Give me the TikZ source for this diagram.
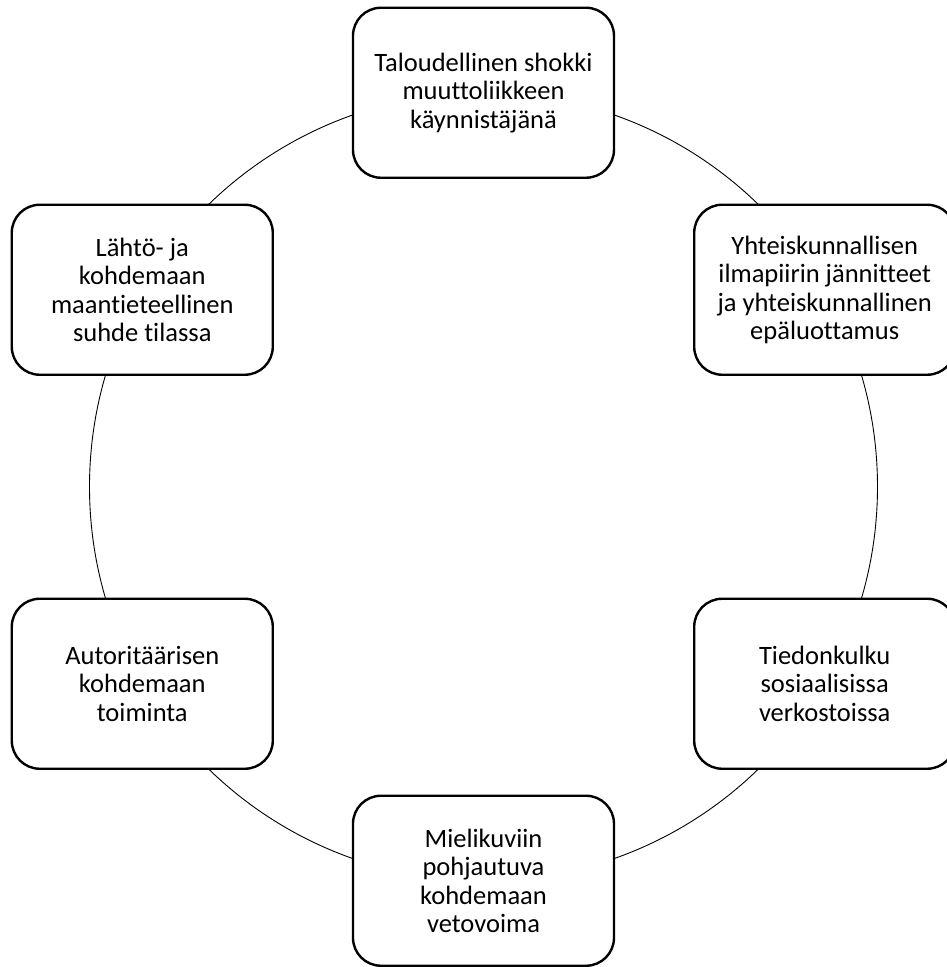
\documentclass[tikz,border=0pt]{standalone}
\usepackage{fontspec}
\setmainfont{Carlito}[Ligatures={NoCommon}]

\begin{document}
\begin{tikzpicture}[x=1pt, y=1pt,
  tekijä/.style={draw, line width=2.4pt, rounded corners=28pt, fill=white,
    minimum width=261pt, minimum height=170pt, inner sep=0pt,
    align=center, font=\fontsize{26.5}{28.5}\selectfont}]

\useasboundingbox (-483.5,-480.25) rectangle (462.5,486.75);

\draw [line width=0.9pt] (0,0) circle (394);

\node[tekijä] (shokki) at (90:394) {Taloudellinen shokki\\muuttoliikkeen\\käynnistäjänä};

\node[tekijä] (ilmapiiri) at (30:394) {Yhteiskunnallisen\\ilmapiirin jännitteet\\ja yhteiskunnallinen\\epäluottamus};

\node[tekijä] (tiedonkulku) at (-30:394) {Tiedonkulku\\sosiaalisissa\\verkostoissa};

\node[tekijä] (vetovoima) at (-90:394) {Mielikuviin\\pohjautuva\\kohdemaan\\vetovoima};

\node[tekijä] (autoritaarinen) at (-150:394) {Autoritäärisen\\kohdemaan\\toiminta};

\node[tekijä] (suhde) at (150:394) {Lähtö- ja\\kohdemaan\\maantieteellinen\\suhde tilassa};

\end{tikzpicture}
\end{document}
